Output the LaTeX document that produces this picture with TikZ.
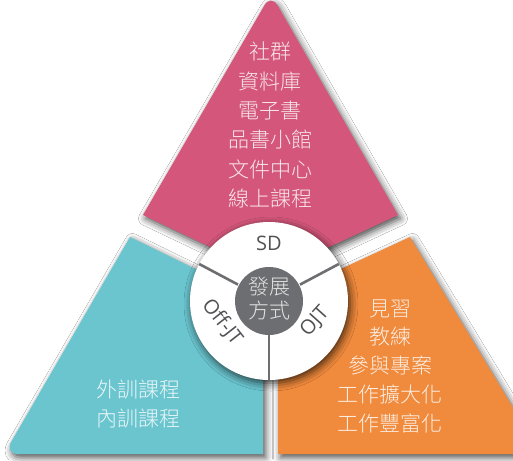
\documentclass[tikz,border=0pt]{standalone}
\usepackage{fontspec}
\IfFontExistsTF{Noto Sans CJK TC Light}
  {\newfontfamily\cjk{Noto Sans CJK TC Light}}
  {\newfontfamily\cjk{Noto Sans CJK TC}}
\newfontfamily\lat{Open Sans}
\usetikzlibrary{shadows.blur}
\definecolor{pinkc}{HTML}{D4577B}
\definecolor{tealc}{HTML}{6BC5CF}
\definecolor{orangec}{HTML}{F08A3C}
\definecolor{grayc}{HTML}{6D6E71}
\definecolor{labelc}{HTML}{505153}
\definecolor{centertext}{HTML}{E4E4E4}
\tikzset{
  piece/.style={blur shadow={shadow xshift=2.5pt,shadow yshift=-3.5pt,shadow blur radius=7pt,shadow opacity=70}},
  cjktext/.style={font=\cjk\fontsize{21}{29.3}\selectfont, align=center, text=white, text opacity=0.85, inner sep=0pt},
  centerlbl/.style={font=\cjk\fontsize{21}{24}\selectfont, align=center, text=centertext, inner sep=0pt},
  ringlbl/.style={font=\lat\fontsize{20}{22}\selectfont, text=labelc, inner sep=0pt},
  divider/.style={draw=grayc, line width=2.6pt}
}
\begin{document}
\begin{tikzpicture}[x=1pt,y=-1pt]
\useasboundingbox (0,0) rectangle (513,460);
\clip (0,0) rectangle (513,460);
\fill[white] (0,0) rectangle (513,460);

% pink (SD) piece
\fill[pinkc, piece] (207,104.5) [rounded corners=13pt] -- (271,-6) -- (334.5,104.5) [sharp corners]
   -- (398,215) -- (269,275) -- (143,215) -- cycle;
% teal (Off-JT) piece
\fill[tealc, piece] (130,237) -- (263,302) -- (263,454) -- (100,454) [rounded corners=14pt]
   -- (4.2,454) -- (67.1,345.5) [sharp corners] -- cycle;
% orange (OJT) piece
\fill[orangec, piece] (410,237) -- (541,454) -- (278,454) -- (278,298) -- cycle;

% central disc
\coordinate (c) at (269,301);
\fill[white, blur shadow={shadow xshift=2pt,shadow yshift=-3pt,shadow blur radius=8pt,shadow opacity=75}] (c) circle[radius=79pt];

\coordinate (l1) at (238,284.6);
\coordinate (l2) at (199.2,264);
\coordinate (r1) at (300,284.6);
\coordinate (r2) at (338.8,264);
\coordinate (d1) at (269,334);
\coordinate (d2) at (269,380);
\draw[divider] (l1) -- (l2);
\draw[divider] (r1) -- (r2);
\draw[divider] (d1) -- (d2);

\fill[grayc] (c) circle[radius=34pt];

% texts
\node[cjktext] (sdlist) at (270,125) {社群\\資料庫\\電子書\\品書小館\\文件中心\\線上課程};
\node[cjktext, font=\cjk\fontsize{21}{29}\selectfont] (offlist) at (138,404) {外訓課程\\內訓課程};
\node[cjktext, font=\cjk\fontsize{21}{28.75}\selectfont] (ojtlist) at (390,366) {見習\\教練\\參與專案\\工作擴大化\\工作豐富化};
\node[centerlbl] (hub) at (269,299) {發展\\方式};
\node[ringlbl] (sd) at (269,243) {SD};
\node[ringlbl, rotate=-52] (offjt) at (222,322) {Off-JT};
\node[ringlbl, rotate=48] (ojt) at (315,322) {OJT};
\end{tikzpicture}
\end{document}
